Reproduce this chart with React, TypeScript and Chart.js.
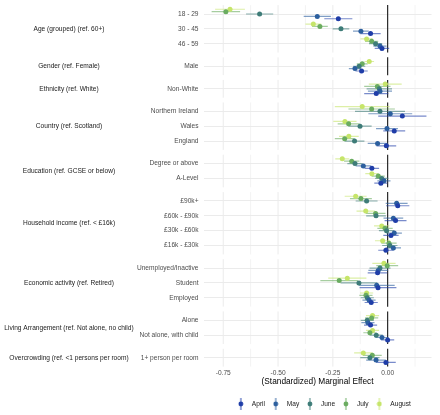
import React, { useEffect, useRef } from "react";
import { Chart, registerables } from "chart.js";

Chart.register(...registerables);

const FONT = "'Liberation Sans', Arial, Helvetica, sans-serif";

const groupNames = [
  "Age (grouped) (ref. 60+)",
  "Gender (ref. Female)",
  "Ethnicity (ref. White)",
  "Country (ref. Scotland)",
  "Education (ref. GCSE or below)",
  "Household income (ref. < £16k)",
  "Economic activity (ref. Retired)",
  "Living Arrangement (ref. Not alone, no child)",
  "Overcrowding (ref. <1 persons per room)",
];
const groupSizes = [3, 1, 1, 3, 2, 4, 3, 2, 1];

const categories = [
  "18 - 29", "30 - 45", "46 - 59",
  "Male",
  "Non-White",
  "Northern Ireland", "Wales", "England",
  "Degree or above", "A-Level",
  "£90k+", "£60k - £90k", "£30k - £60k", "£16k - £30k",
  "Unemployed/Inactive", "Student", "Employed",
  "Alone", "Not alone, with child",
  "1+ person per room",
];

const seriesNames = ["April", "May", "June", "July", "August"];
const seriesColors = ["#1f3da8", "#2c5f9e", "#3e7c78", "#6aac60", "#c6e56a"];

const estApril = [-0.225, -0.078, -0.026, -0.119, -0.052, 0.067, 0.030, -0.006, -0.072, -0.031, 0.046, 0.036, 0.015, -0.008, -0.046, -0.044, -0.075, -0.078, 0.000, -0.008];
const estMay = [-0.321, -0.122, -0.035, -0.149, -0.035, 0.012, -0.003, -0.046, -0.111, -0.017, 0.041, 0.026, 0.030, 0.026, -0.043, -0.050, -0.085, -0.090, -0.026, -0.053];
const estJune = [-0.584, -0.213, -0.055, -0.130, -0.038, -0.035, -0.126, -0.151, -0.149, -0.027, -0.096, -0.053, -0.005, 0.010, -0.035, -0.131, -0.093, -0.093, -0.052, -0.081];
const estJuly = [-0.738, -0.309, -0.073, -0.116, -0.047, -0.073, -0.178, -0.196, -0.164, -0.043, -0.122, -0.055, -0.012, 0.006, -0.002, -0.221, -0.099, -0.073, -0.081, -0.070];
const estAugust = [-0.719, -0.339, -0.096, -0.084, -0.011, -0.116, -0.195, -0.177, -0.207, -0.072, -0.146, -0.100, -0.027, -0.023, -0.017, -0.184, -0.096, -0.069, -0.069, -0.111];

const ciApril = [0.064, 0.046, 0.033, 0.028, 0.055, 0.110, 0.050, 0.045, 0.033, 0.030, 0.053, 0.050, 0.035, 0.035, 0.045, 0.084, 0.030, 0.030, 0.030, 0.045];
const ciMay = [0.062, 0.036, 0.030, 0.028, 0.055, 0.100, 0.050, 0.045, 0.035, 0.030, 0.050, 0.045, 0.035, 0.035, 0.045, 0.082, 0.030, 0.030, 0.030, 0.045];
const ciJune = [0.062, 0.038, 0.030, 0.028, 0.058, 0.114, 0.053, 0.045, 0.035, 0.030, 0.050, 0.045, 0.035, 0.035, 0.048, 0.084, 0.030, 0.030, 0.030, 0.044];
const ciJuly = [0.065, 0.036, 0.030, 0.025, 0.060, 0.106, 0.050, 0.045, 0.035, 0.030, 0.050, 0.045, 0.035, 0.035, 0.050, 0.086, 0.030, 0.030, 0.030, 0.043];
const ciAugust = [0.068, 0.036, 0.028, 0.022, 0.075, 0.125, 0.053, 0.045, 0.032, 0.030, 0.050, 0.042, 0.035, 0.035, 0.053, 0.087, 0.030, 0.030, 0.030, 0.042];

const xTicks = [-0.75, -0.5, -0.25, 0];
const xMinor = [-0.625, -0.375, -0.125, 0.125];

const estimates = [estApril, estMay, estJune, estJuly, estAugust];
const cis = [ciApril, ciMay, ciJune, ciJuly, ciAugust];

// layout of rows (positions on the y scale)
const GAP = 1.52;
const PAD = 0.6;
const dodge = [0.32, 0.16, 0, -0.16, -0.32];
const rowPos: number[] = [];
const panels: { start: number; end: number; name: string }[] = [];
{
  let cur = 0;
  groupSizes.forEach((n, g) => {
    const s = cur;
    for (let k = 0; k < n; k++) {
      rowPos.push(Math.round(cur * 1000) / 1000);
      if (k < n - 1) cur += 1;
    }
    panels.push({ start: s, end: cur, name: groupNames[g] });
    cur += GAP;
  });
}
const lastPos = rowPos[rowPos.length - 1];

function rgba(hex: string, a: number) {
  const n = parseInt(hex.slice(1), 16);
  return `rgba(${(n >> 16) & 255},${(n >> 8) & 255},${n & 255},${a})`;
}

function labelFor(v: number) {
  const i = rowPos.findIndex((p) => Math.abs(p - v) < 1e-6);
  return i >= 0 ? categories[i] : "";
}

const panelPlugin = {
  id: "panelDecor",
  afterLayout(chart: any) {
    if (chart.legend) {
      chart.legend.left += 4.5;
      chart.legend.right += 4.5;
    }
  },
  beforeDatasetsDraw(chart: any) {
    const { ctx, scales } = chart;
    const x = scales.x;
    const y = scales.y;
    ctx.save();
    panels.forEach((p) => {
      const top = y.getPixelForValue(p.start - PAD);
      const bot = y.getPixelForValue(p.end + PAD);
      ctx.strokeStyle = "#ebebeb";
      ctx.lineWidth = 0.6;
      xMinor.forEach((v) => {
        const px = x.getPixelForValue(v);
        ctx.beginPath();
        ctx.moveTo(px, top);
        ctx.lineTo(px, bot);
        ctx.stroke();
      });
      ctx.lineWidth = 1;
      xTicks.forEach((v) => {
        const px = x.getPixelForValue(v);
        ctx.beginPath();
        ctx.moveTo(px, top);
        ctx.lineTo(px, bot);
        ctx.stroke();
      });
      const z = x.getPixelForValue(0);
      ctx.strokeStyle = "#1a1a1a";
      ctx.lineWidth = 1.1;
      ctx.beginPath();
      ctx.moveTo(z, top);
      ctx.lineTo(z, bot);
      ctx.stroke();
    });
    ctx.restore();
  },
  afterDraw(chart: any) {
    const { ctx, scales } = chart;
    const y = scales.y;
    ctx.save();
    ctx.font = `6.6px ${FONT}`;
    ctx.fillStyle = "#1a1a1a";
    ctx.textAlign = "center";
    ctx.textBaseline = "middle";
    panels.forEach((p) => {
      const cy = y.getPixelForValue((p.start + p.end) / 2);
      ctx.fillText(p.name, 69, cy);
    });
    ctx.restore();
  },
};

function makeGlyph(color: string) {
  const c = document.createElement("canvas");
  c.width = 6;
  c.height = 12;
  const g = c.getContext("2d")!;
  g.strokeStyle = rgba(color, 0.8);
  g.lineWidth = 1.2;
  g.beginPath();
  g.moveTo(3, 0);
  g.lineTo(3, 12);
  g.stroke();
  g.fillStyle = color;
  g.beginPath();
  g.arc(3, 6, 2.4, 0, Math.PI * 2);
  g.fill();
  return c;
}

export default function App() {
  const ref = useRef<HTMLCanvasElement>(null);
  useEffect(() => {
    document.body.style.margin = "0";
    const glyphs = seriesColors.map(makeGlyph);
    const pointSets = seriesNames.map((name, i) => ({
      label: name,
      data: categories.map((_, r) => ({ x: estimates[i][r], y: rowPos[r] + dodge[i] })),
      backgroundColor: seriesColors[i],
      borderColor: seriesColors[i],
      borderWidth: 0,
      pointRadius: 2.5,
      pointHoverRadius: 2.5,
      order: 0,
    }));
    const barSets = seriesNames.map((name, i) => ({
      label: name + " CI",
      data: categories.flatMap((_, r) => [
        { x: estimates[i][r] - cis[i][r], y: rowPos[r] + dodge[i] },
        { x: estimates[i][r] + cis[i][r], y: rowPos[r] + dodge[i] },
        { x: null, y: null },
      ]),
      showLine: true,
      spanGaps: false,
      borderColor: rgba(seriesColors[i], 0.6),
      borderWidth: 1.2,
      pointRadius: 0,
      pointHoverRadius: 0,
      order: 1,
    }));
    const chart = new Chart(ref.current!, {
      type: "scatter",
      data: { datasets: [...pointSets, ...barSets] as any },
      plugins: [panelPlugin],
      options: {
        animation: false,
        responsive: false,
        devicePixelRatio: 1,
        events: [],
        layout: { padding: { top: 5.1, right: 8.5, bottom: 0, left: 0 } },
        font: { family: FONT },
        scales: {
          x: {
            type: "linear",
            min: -0.84,
            max: 0.2,
            afterBuildTicks: (s: any) => {
              s.ticks = xTicks.map((v) => ({ value: v }));
            },
            ticks: {
              callback: (v: any) => Number(v).toFixed(2),
              font: { size: 6.6, family: FONT },
              color: "#4d4d4d",
              padding: 3,
              maxRotation: 0,
              autoSkip: false,
            },
            grid: { display: false, drawTicks: false },
            border: { display: false },
            title: {
              display: true,
              text: "(Standardized) Marginal Effect",
              font: { size: 8.3, family: FONT },
              color: "#000000",
              padding: { top: 0, bottom: 11.4 },
            },
            afterFit: (s: any) => {
              s.height = 31.1;
              s.paddingLeft = 0;
              s.paddingRight = 0;
            },
          },
          y: {
            type: "linear",
            reverse: true,
            min: -PAD,
            max: lastPos + PAD,
            afterBuildTicks: (s: any) => {
              s.ticks = rowPos.map((v) => ({ value: v }));
            },
            ticks: {
              callback: (v: any) => labelFor(Number(v)),
              font: { size: 6.6, family: FONT },
              color: "#4d4d4d",
              padding: 5,
              autoSkip: false,
            },
            grid: { color: "#ebebeb", lineWidth: 1, drawTicks: false },
            border: { display: false },
            afterFit: (s: any) => {
              s.width = 203.5;
              s.paddingTop = 0;
              s.paddingBottom = 0;
            },
          },
        },
        plugins: {
          tooltip: { enabled: false },
          legend: {
            position: "bottom",
            fullSize: false,
            maxHeight: 17.3,
            onClick: () => {},
            labels: {
              usePointStyle: true,
              pointStyleWidth: 15.4,
              padding: 3,
              font: { size: 6.6, family: FONT },
              color: "#1a1a1a",
              generateLabels: () =>
                seriesNames.map((n, i) => ({
                  text: n,
                  pointStyle: glyphs[i] as any,
                  fillStyle: seriesColors[i],
                  strokeStyle: seriesColors[i],
                  lineWidth: 0,
                  hidden: false,
                  datasetIndex: i,
                  fontColor: "#1a1a1a",
                })),
            },
          },
        },
      } as any,
    });
    return () => chart.destroy();
  }, []);
  return (
    <div style={{ width: 440, height: 415 }}>
      <canvas ref={ref} width={440} height={415} style={{ display: "block", width: 440, height: 415 }} />
    </div>
  );
}
